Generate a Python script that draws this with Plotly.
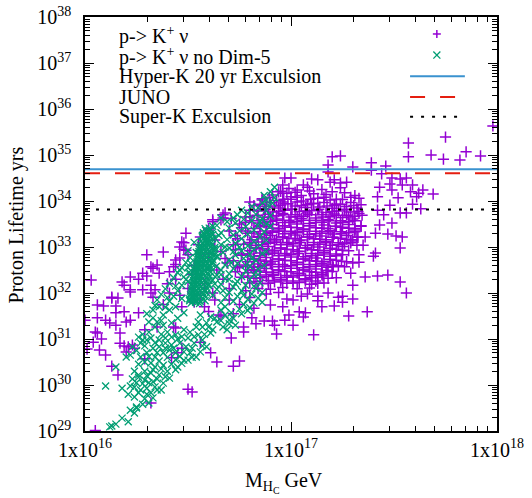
import numpy as np
import plotly.graph_objects as go

# ---- data: (log10 M_HC [GeV], log10 proton lifetime [yrs]) ----
kplus_nu = [
    # top right / right side
    (17.98,35.63),(17.75,35.39),(17.57,35.26),(17.85,35.07),(17.68,35.00),(17.57,34.96),(17.74,34.91),(17.82,34.89),
    (17.92,34.98),(17.20,34.96),(17.24,34.98),(17.39,34.83),(17.46,34.76),(17.30,34.74),(17.39,34.67),(17.44,34.59),
    (17.49,34.50),(17.53,34.48),(17.56,34.50),(17.54,34.35),(17.59,34.35),(17.64,34.24),(17.69,34.15),(17.62,34.17),
    (17.61,34.09),(17.58,34.20),(17.52,34.07),(17.59,33.93),(17.63,33.83),(17.56,33.74),(17.53,33.74),(17.48,33.91),
    (17.49,34.24),(17.48,34.37),(17.43,34.30),(17.42,34.09),(17.42,33.80),(17.45,33.70),(17.49,33.52),(17.43,33.48),
    (17.41,33.30),(17.47,33.28),(17.51,33.24),(17.54,33.22),(17.53,32.98),(17.41,32.87),(17.40,32.80),(17.36,33.22),
    (17.35,33.04),(17.33,32.83),(17.33,32.67),(17.30,32.65),(17.29,32.43),(17.26,32.57),(17.36,32.35),(17.42,32.37),
    (17.47,32.39),(17.53,32.24),(17.56,32.00),(17.30,32.17),(17.25,31.93),(17.25,31.80),(17.30,31.87),(17.22,32.33),
    (17.21,31.72),(17.37,31.59),(17.28,31.50),
    # lower tail of the cloud
    (17.23,31.91),(17.18,32.00),(17.15,31.70),(17.13,31.93),(17.13,31.83),(17.11,31.09),(17.08,31.98),(17.07,31.57),
    (17.06,31.48),(17.04,31.59),(17.05,31.93),(17.01,31.30),(17.01,31.85),(16.99,31.52),(16.97,31.41),(16.96,31.70),
    (16.98,31.87),(16.93,31.11),(16.91,31.39),(16.92,31.30),(16.87,31.39),(16.90,31.74),(16.83,31.33),(16.81,31.46),
    (16.82,31.67),(16.77,31.15),(16.77,31.26),(16.71,31.02),(16.75,30.52),(16.72,30.41),
    # lower left
    (16.05,29.01),(16.50,29.91),(16.52,29.85),(16.32,29.61),(16.16,30.22),(16.13,30.41),(16.64,30.50),(16.29,30.57),
    (16.42,30.59),(16.47,30.80),(16.45,30.70),(16.10,30.65),(16.07,30.76),(16.08,31.00),(16.04,30.93),(16.01,30.78),
    (16.17,30.91),(16.20,30.72),(16.21,30.83),(16.23,30.87),(16.24,30.80),(16.19,30.85),(16.05,31.15),(16.06,31.13),
    (16.17,31.13),(16.29,31.20),(16.35,31.26),(16.43,31.26),(16.56,30.93),(16.61,30.70),(16.65,31.52),(16.00,31.41),
    (16.06,31.46),(16.10,31.41),(16.12,31.35),(16.15,31.30),(16.20,31.37),(16.22,31.41),(16.26,31.57),(16.19,31.59),
    (16.15,31.57),(16.06,31.74),(16.09,31.72),(16.15,31.72),(16.13,31.91),(16.22,32.02),(16.32,32.00),(16.44,31.24),
    # left middle
    (16.03,32.28),(16.13,31.89),(16.16,31.89),(16.18,32.24),(16.19,32.17),(16.22,32.35),(16.26,32.30),(16.22,32.07),
    (16.28,32.07),(16.30,32.37),(16.30,32.83),(16.33,32.54),(16.35,32.61),(16.38,32.89),(16.36,32.43),(16.41,32.46),
    (16.43,32.57),(16.44,32.72),(16.34,32.07),(16.32,32.17),(16.33,31.91),(16.47,33.11),(16.49,33.30),(16.46,32.76),
    (16.49,32.93),(16.50,32.83),(16.56,33.22),(16.66,33.59),(16.67,33.70),(16.68,33.74),
    (16.86,34.02),(16.80,33.80),(16.67,33.63),(16.62,33.59),(16.60,33.37),(16.48,33.09),(16.46,33.00),(16.32,32.57),
    (16.28,32.43),
    # top edge of the cloud
    (17.18,34.78),(17.18,34.63),(16.97,34.50),(17.00,34.50),(17.10,34.48),(17.13,34.46),(17.06,34.35),(17.19,34.41),
    (17.21,34.46),(17.24,34.39),(17.27,34.41),(16.96,34.35),(17.03,34.24),(16.96,34.17),(16.94,34.20),(17.00,34.09),
    (16.80,33.98),(16.96,33.98),
    # among the green band
    (16.40,32.20),(16.44,32.62),(16.52,32.40),(16.48,32.95),(16.55,33.05),(16.60,33.40),(16.63,33.15),(16.66,32.90),
    (16.70,33.35),(16.72,33.05),(16.69,32.65),(16.64,32.50),(16.58,32.20),(16.62,32.00),(16.67,32.30),(16.70,32.10),
    (16.74,32.55),(16.76,32.85),(16.73,33.25),(16.75,33.50),(16.71,33.62),(16.78,33.65),(16.62,33.55),(16.57,32.70),
    (16.50,32.10),(16.46,31.95),(16.53,31.80),(16.58,31.70),(16.63,31.85),(16.70,31.85),(16.75,31.75),(16.78,32.05),
    (16.80,31.90),(16.72,31.55),(16.66,31.50),(16.60,31.60),(16.44,32.30),(16.41,32.00),(16.38,31.75),(16.47,31.70),
    (16.56,31.95),(16.68,32.75),(16.60,32.85),(16.53,32.60),(16.78,33.35),(16.80,33.10),
    # dense cloud
    (16.99,34.27),(17.08,34.30),(17.15,34.25),(17.24,34.29),
    (16.95,34.21),(17.02,34.19),(17.09,34.22),(17.20,34.20),
    (16.91,34.13),(16.98,34.17),(17.05,34.12),(17.11,34.16),(17.17,34.14),(17.26,34.18),(17.31,34.12),
    (16.895,34.08),(16.965,34.04),(17.03,34.08),(17.095,34.04),(17.16,34.08),(17.22,34.04),(17.29,34.08),
    (16.86,34.05),(16.93,34.01),(17.00,34.04),(17.06,34.00),(17.13,34.06),(17.19,34.02),(17.25,34.03),(17.33,34.06),
    (16.90,33.96),(16.97,33.94),(17.03,33.98),(17.10,33.95),(17.16,33.97),(17.22,33.93),(17.29,33.97),
    (16.85,33.93),(16.92,33.89),(16.985,33.94),(17.05,33.90),(17.11,33.94),(17.175,33.89),(17.24,33.93),(17.305,33.90),
    (16.82,33.90),(16.88,33.88),(16.95,33.91),(17.02,33.89),(17.08,33.92),(17.14,33.87),(17.21,33.90),(17.27,33.88),(17.34,33.92),
    (16.87,33.83),(16.94,33.85),(17.00,33.82),(17.07,33.86),(17.13,33.81),(17.20,33.84),(17.26,33.82),(17.32,33.85),
    (16.875,33.81),(16.94,33.77),(17.005,33.82),(17.07,33.78),(17.135,33.82),(17.20,33.77),(17.26,33.81),(17.325,33.77),
    (16.84,33.78),(16.91,33.76),(16.97,33.80),(17.04,33.77),(17.10,33.79),(17.17,33.75),(17.23,33.78),(17.29,33.76),
    (16.89,33.71),(16.96,33.73),(17.02,33.70),(17.08,33.74),(17.15,33.70),(17.21,33.72),(17.27,33.69),(17.33,33.73),
    (16.835,33.69),(16.90,33.65),(16.965,33.70),(17.03,33.66),(17.09,33.70),(17.155,33.65),(17.22,33.69),(17.28,33.65),(17.345,33.69),
    (16.80,33.66),(16.87,33.64),(16.93,33.68),(17.00,33.65),(17.06,33.67),(17.12,33.63),(17.19,33.66),(17.25,33.64),(17.31,33.67),
    (16.86,33.59),(16.93,33.61),(16.99,33.58),(17.05,33.62),(17.12,33.58),(17.18,33.60),(17.24,33.57),(17.30,33.61),
    (16.81,33.57),(16.87,33.53),(16.93,33.58),(16.995,33.54),(17.06,33.58),(17.12,33.53),(17.185,33.57),(17.25,33.53),(17.31,33.57),
    (16.78,33.54),(16.84,33.52),(16.90,33.56),(16.96,33.53),(17.03,33.55),(17.09,33.51),(17.15,33.54),(17.22,33.52),(17.28,33.55),
    (16.85,33.47),(16.91,33.49),(16.97,33.46),(17.03,33.50),(17.09,33.46),(17.16,33.48),(17.22,33.45),(17.28,33.49),(17.34,33.46),
    (16.85,33.45),(16.91,33.41),(16.97,33.46),(17.03,33.42),(17.09,33.46),(17.15,33.41),(17.215,33.45),(17.28,33.41),(17.34,33.45),
    (16.76,33.42),(16.82,33.40),(16.88,33.44),(16.94,33.41),(17.00,33.43),(17.06,33.39),(17.12,33.42),(17.18,33.40),(17.25,33.43),(17.31,33.40),
    (16.88,33.35),(16.94,33.37),(17.00,33.34),(17.06,33.38),(17.12,33.34),(17.19,33.36),(17.24,33.33),(17.31,33.37),
    (16.82,33.33),(16.88,33.29),(16.94,33.34),(17.00,33.30),(17.06,33.34),(17.12,33.29),(17.18,33.33),(17.245,33.29),(17.31,33.33),
    (16.79,33.30),(16.85,33.28),(16.91,33.32),(16.97,33.29),(17.03,33.31),(17.09,33.27),(17.15,33.30),(17.21,33.28),(17.28,33.31),
    (16.84,33.23),(16.90,33.25),(16.96,33.22),(17.02,33.26),(17.08,33.22),(17.14,33.24),(17.20,33.21),(17.27,33.25),(17.32,33.22),
    (16.84,33.21),(16.90,33.17),(16.96,33.22),(17.02,33.18),(17.08,33.22),(17.14,33.17),(17.205,33.21),(17.27,33.17),(17.325,33.21),
    (16.74,33.18),(16.81,33.16),(16.87,33.20),(16.93,33.17),(16.99,33.19),(17.05,33.15),(17.11,33.18),(17.17,33.16),(17.24,33.19),(17.30,33.16),
    (16.86,33.11),(16.92,33.13),(16.98,33.10),(17.04,33.14),(17.11,33.10),(17.17,33.12),(17.23,33.09),(17.29,33.13),
    (16.80,33.09),(16.86,33.05),(16.92,33.10),(16.98,33.06),(17.045,33.10),(17.11,33.05),(17.17,33.09),(17.23,33.05),(17.29,33.09),
    (16.77,33.06),(16.83,33.04),(16.89,33.08),(16.95,33.05),(17.01,33.07),(17.08,33.03),(17.14,33.06),(17.20,33.04),(17.26,33.07),(17.32,33.04),
    (16.83,32.99),(16.89,33.01),(16.95,32.98),(17.01,33.02),(17.07,32.98),(17.13,33.00),(17.19,32.97),(17.25,33.01),
    (16.83,32.97),(16.89,32.93),(16.95,32.98),(17.01,32.94),(17.07,32.98),(17.13,32.93),(17.19,32.97),(17.25,32.93),
    (16.73,32.94),(16.80,32.92),(16.86,32.96),(16.92,32.93),(16.98,32.95),(17.04,32.91),(17.10,32.94),(17.16,32.92),(17.22,32.95),(17.28,32.92),
    (16.85,32.87),(16.91,32.89),(16.97,32.86),(17.03,32.90),(17.10,32.86),(17.16,32.88),(17.22,32.85),
    (16.79,32.85),(16.85,32.81),(16.91,32.86),(16.97,32.82),(17.035,32.86),(17.10,32.81),(17.16,32.85),(17.22,32.81),
    (16.76,32.82),(16.82,32.80),(16.88,32.84),(16.94,32.81),(17.00,32.83),(17.07,32.79),(17.13,32.82),(17.19,32.80),(17.25,32.83),
    (16.82,32.75),(16.88,32.77),(16.94,32.74),(17.00,32.78),(17.06,32.74),(17.12,32.76),(17.19,32.73),
    (16.82,32.73),(16.88,32.69),(16.94,32.74),(17.00,32.70),(17.06,32.74),(17.125,32.69),(17.19,32.73),(17.245,32.69),
    (16.72,32.70),(16.79,32.68),(16.85,32.72),(16.91,32.69),(16.97,32.71),(17.03,32.67),(17.09,32.70),(17.16,32.68),(17.22,32.71),(17.27,32.68),
    (16.84,32.63),(16.90,32.65),(16.96,32.62),(17.03,32.66),(17.09,32.62),(17.15,32.64),(17.20,32.61),
    (16.78,32.61),(16.84,32.57),(16.905,32.62),(16.97,32.58),(17.03,32.62),(17.09,32.57),(17.15,32.61),(17.205,32.57),
    (16.75,32.58),(16.81,32.56),(16.87,32.60),(16.94,32.57),(17.00,32.59),(17.06,32.55),(17.12,32.58),(17.18,32.56),(17.23,32.59),
    (16.82,32.51),(16.88,32.53),(16.94,32.50),(17.00,32.54),(17.06,32.50),(17.12,32.52),(17.17,32.49),
    (16.82,32.49),(16.88,32.45),(16.94,32.50),(17.00,32.46),(17.06,32.50),(17.12,32.45),(17.175,32.49),
    (16.73,32.46),(16.79,32.44),(16.85,32.48),(16.91,32.45),(16.97,32.47),(17.03,32.43),(17.09,32.46),(17.15,32.44),(17.20,32.47),
    (16.85,32.39),(16.91,32.41),(16.98,32.38),(17.04,32.42),(17.10,32.38),(17.15,32.40),
    (16.79,32.37),(16.85,32.33),(16.915,32.38),(16.98,32.34),(17.04,32.38),(17.10,32.33),(17.155,32.37),
    (16.76,32.34),(16.82,32.32),(16.88,32.36),(16.95,32.33),(17.01,32.35),(17.07,32.31),(17.13,32.34),(17.18,32.32),
    (16.89,32.27),(16.95,32.29),(17.01,32.26),(17.07,32.30),(17.12,32.26),
    (16.83,32.25),(16.89,32.21),(16.95,32.26),(17.01,32.22),(17.07,32.26),(17.13,32.21),
    (16.80,32.22),(16.86,32.20),(16.92,32.24),(16.98,32.21),(17.04,32.23),(17.10,32.19),(17.16,32.22),
    (16.84,32.10),(16.90,32.08),(16.96,32.12),(17.03,32.09),(17.09,32.11),
    (16.88,31.98),(16.94,32.01),
]

kplus_nu_no_dim5 = [
    # upper band
    (16.92,34.30),(16.90,34.20),(16.92,34.07),(16.88,34.02),(16.86,33.96),(16.84,33.85),(16.76,33.80),(16.74,33.70),
    (16.72,33.63),(16.66,33.63),(16.89,33.91),(16.81,33.88),(16.88,33.80),(16.79,33.74),(16.83,33.71),(16.90,33.68),
    (16.86,33.62),(16.77,33.60),(16.81,33.57),(16.69,33.55),(16.73,33.52),(16.88,33.50),(16.84,33.46),(16.64,33.47),
    (16.78,33.44),(16.70,33.41),(16.61,33.38),(16.75,33.35),(16.82,33.37),(16.87,33.33),(16.66,33.31),(16.72,33.26),
    (16.79,33.28),(16.85,33.22),(16.63,33.20),(16.69,33.16),(16.76,33.18),(16.82,33.12),(16.88,33.15),(16.60,33.09),
    (16.66,33.05),(16.73,33.08),(16.79,33.02),(16.85,33.04),(16.57,33.00),(16.63,32.95),(16.70,32.98),(16.76,32.92),
    (16.82,32.95),(16.54,32.88),(16.61,32.85),(16.67,32.88),(16.73,32.82),(16.80,32.84),(16.86,32.86),(16.51,32.77),
    (16.58,32.74),(16.64,32.78),(16.70,32.72),(16.77,32.75),(16.83,32.70),(16.49,32.66),(16.55,32.62),(16.62,32.67),
    (16.68,32.61),(16.74,32.64),(16.80,32.58),(16.47,32.55),(16.53,32.51),(16.60,32.56),(16.66,32.50),(16.72,32.53),
    (16.78,32.48),(16.84,32.52),(16.45,32.44),(16.51,32.40),(16.57,32.45),(16.64,32.39),(16.70,32.42),(16.76,32.36),
    (16.82,32.40),(16.43,32.33),(16.49,32.29),(16.55,32.34),(16.62,32.28),(16.68,32.31),(16.74,32.25),(16.80,32.29),
    (16.85,32.22),(16.41,32.21),(16.47,32.17),(16.53,32.23),(16.60,32.16),(16.66,32.19),(16.72,32.13),(16.78,32.17),
    (16.83,32.10),(16.39,32.09),(16.45,32.05),(16.58,32.04),(16.64,32.08),(16.70,32.01),(16.76,32.05),(16.81,31.98),
    (16.86,32.01),(16.37,31.97),(16.43,31.93),(16.62,31.95),(16.68,31.90),(16.74,31.93),(16.79,31.86),(16.84,31.89),
    (16.35,31.85),(16.41,31.82),(16.47,31.88),(16.66,31.79),(16.72,31.82),(16.77,31.75),(16.82,31.78),(16.34,31.73),
    (16.39,31.69),(16.44,31.70),(16.68,31.70),(16.71,31.57),(16.75,31.65),(16.80,31.68),(16.66,31.63),
    (16.72,31.45),(16.76,31.55),(16.79,31.62),(16.73,31.30),(16.70,31.33),
    (16.46,32.50),(16.48,32.35),(16.44,32.15),(16.50,32.55),(16.50,32.92),(16.53,33.10),(16.57,33.25),(16.62,33.45),
    (16.65,33.25),(16.68,33.00),(16.72,32.90),(16.75,33.00),(16.78,32.60),(16.81,32.75),(16.84,32.40),(16.87,32.60),
    (16.88,32.90),(16.90,33.45),(16.91,33.95),(16.87,34.12),(16.85,33.55),(16.70,32.30),(16.66,32.40),(16.73,32.20),
    (16.77,31.95),(16.82,32.15),(16.86,31.80),(16.63,32.20),(16.67,32.05),(16.71,32.65),
    # dense column
    (16.515,31.78),(16.537,31.80),(16.556,31.77),
    (16.508,31.87),(16.529,31.89),(16.550,31.86),(16.571,31.88),
    (16.512,31.96),(16.534,31.97),(16.553,31.95),(16.575,31.98),
    (16.518,32.05),(16.539,32.06),(16.560,32.04),(16.581,32.07),
    (16.522,32.14),(16.543,32.15),(16.563,32.13),(16.585,32.16),
    (16.525,32.23),(16.546,32.24),(16.568,32.22),(16.588,32.25),
    (16.529,32.32),(16.551,32.33),(16.571,32.31),(16.592,32.34),
    (16.533,32.41),(16.554,32.42),(16.575,32.40),(16.596,32.43),
    (16.536,32.50),(16.558,32.51),(16.579,32.49),(16.600,32.52),
    (16.540,32.59),(16.562,32.60),(16.583,32.58),(16.603,32.61),
    (16.544,32.68),(16.565,32.69),(16.586,32.67),(16.607,32.70),
    (16.548,32.77),(16.569,32.78),(16.590,32.76),(16.610,32.79),
    (16.551,32.86),(16.573,32.87),(16.594,32.85),(16.613,32.88),
    (16.555,32.95),(16.577,32.96),(16.597,32.94),(16.616,32.97),
    (16.559,33.04),(16.581,33.05),(16.601,33.03),(16.619,33.06),
    (16.564,33.13),(16.585,33.14),(16.605,33.12),
    (16.569,33.22),(16.590,33.23),(16.609,33.21),
    (16.575,33.31),(16.596,33.32),(16.614,33.30),
    (16.583,33.40),(16.603,33.41),
    (16.508,31.83),(16.522,31.82),(16.538,31.83),(16.559,31.82),(16.583,31.83),
    (16.512,31.91),(16.526,31.92),(16.542,31.91),(16.563,31.92),(16.587,31.91),
    (16.516,32.00),(16.530,32.01),(16.546,32.00),(16.567,32.01),(16.591,32.00),
    (16.519,32.09),(16.533,32.10),(16.549,32.09),(16.570,32.10),(16.594,32.09),
    (16.523,32.18),(16.537,32.19),(16.553,32.18),(16.574,32.19),(16.598,32.18),
    (16.527,32.27),(16.541,32.28),(16.557,32.27),(16.578,32.28),(16.602,32.27),
    (16.531,32.36),(16.545,32.37),(16.561,32.36),(16.582,32.37),(16.606,32.36),
    (16.535,32.45),(16.549,32.46),(16.565,32.45),(16.586,32.46),(16.610,32.45),
    (16.538,32.54),(16.552,32.55),(16.568,32.54),(16.589,32.55),(16.613,32.54),
    (16.542,32.63),(16.556,32.64),(16.572,32.63),(16.593,32.64),(16.617,32.63),
    (16.546,32.72),(16.560,32.73),(16.576,32.72),(16.597,32.73),(16.621,32.72),
    (16.550,32.81),(16.564,32.82),(16.580,32.81),(16.601,32.82),(16.625,32.81),
    (16.553,32.90),(16.567,32.91),(16.583,32.90),(16.604,32.91),(16.628,32.90),
    (16.557,32.99),(16.571,33.00),(16.587,32.99),(16.608,33.00),(16.630,32.99),
    (16.570,33.09),(16.591,33.08),(16.612,33.09),
    (16.574,33.18),(16.595,33.17),(16.616,33.18),
    (16.578,33.27),(16.599,33.26),(16.620,33.27),
    (16.586,33.36),(16.606,33.35),
    (16.500,32.25),(16.505,32.45),(16.512,32.65),(16.632,32.35),(16.638,32.58),(16.642,32.80),
    # lower band
    (16.33,31.63),(16.38,31.52),(16.41,31.63),(16.48,31.57),(16.33,31.46),(16.35,31.37),(16.31,31.37),(16.34,31.26),
    (16.56,31.52),(16.61,31.48),(16.64,31.37),(16.67,31.26),(16.69,31.20),(16.70,31.41),(16.55,31.37),(16.57,31.26),
    (16.60,31.26),(16.62,31.20),(16.61,31.13),(16.54,31.26),(16.51,31.15),(16.48,31.20),(16.44,31.09),(16.42,31.04),
    (16.39,31.02),(16.36,30.98),(16.32,31.02),(16.28,30.98),(16.26,31.04),(16.55,31.09),(16.57,30.98),(16.53,30.91),
    (16.50,31.02),(16.49,30.83),(16.46,30.91),(16.42,30.87),(16.39,30.91),(16.36,30.83),(16.33,30.80),(16.30,30.98),
    (16.27,30.91),(16.23,30.83),(16.59,30.83),(16.56,30.72),(16.54,30.61),(16.51,30.70),(16.48,30.72),(16.44,30.70),
    (16.41,30.76),(16.38,30.70),(16.34,30.61),(16.29,30.50),(16.27,30.61),(16.22,30.65),(16.20,30.61),(16.50,30.54),
    (16.48,30.54),(16.45,30.39),(16.44,30.33),(16.38,30.43),(16.34,30.39),(16.32,30.48),(16.15,30.39),(16.41,30.15),
    (16.38,30.04),(16.36,30.22),(16.32,30.26),(16.33,30.07),(16.29,30.11),(16.26,30.17),(16.23,30.13),(16.26,30.22),
    (16.37,29.89),(16.34,29.96),(16.30,29.93),(16.27,29.89),(16.32,29.83),(16.26,29.83),(16.24,29.74),(16.31,29.61),
    (16.25,29.52),(16.25,29.50),(16.24,29.39),(16.18,29.28),(16.12,29.09),(16.13,29.11),(16.10,29.98),(16.18,29.93),
    (16.35,29.89),(16.44,30.55),(16.40,30.60),(16.46,30.62),(16.52,30.80),(16.45,31.00),(16.40,31.15),(16.37,31.10),
    (16.30,30.70),(16.36,30.52),(16.29,30.30),(16.40,30.30),(16.35,30.13),(16.28,30.03),(16.22,29.98),
    (16.21,29.20),(16.15,29.15),(16.22,29.45),(16.28,29.58),(16.29,29.70),(16.21,29.80),(16.30,29.80),(16.33,29.72),
    (16.24,29.95),(16.31,30.05),(16.25,30.05),(16.39,30.18),(16.30,30.20),(16.24,30.30),(16.33,30.33),(16.42,30.45),
    (16.37,30.35),(16.26,30.45),(16.31,30.62),(16.35,30.70),(16.47,30.47),(16.43,30.80),(16.39,30.80),(16.25,30.75),
    (16.29,30.85),(16.34,30.92),(16.47,31.05),(16.53,31.05),(16.58,31.10),(16.59,31.35),(16.63,31.45),(16.66,31.40),
    (16.68,31.52),(16.52,30.60),(16.57,30.85),(16.31,31.15),(16.28,31.10),(16.38,31.30),(16.42,31.35),(16.45,31.45),
    (16.36,31.70),(16.40,31.90),(16.30,31.55),(16.37,31.40),
]

hyperk_20yr_tau = 4.9e34
juno_tau = 4.0e34
superk_tau = 6.5e33
line_mass_span = [1e16, 1e18]

y_decades = list(range(29, 39))
x_decades = [16, 17, 18]


def unzip(points):
    arr = np.array(points, dtype=float)
    return np.power(10.0, arr[:, 0]), np.power(10.0, arr[:, 1])


px, py = unzip(kplus_nu)
gx, gy = unzip(kplus_nu_no_dim5)

PURPLE = "#9400d3"
GREEN = "#009e73"
BLUE = "#3a92cf"
RED = "#e51e10"
FONT = "Liberation Serif"

fig = go.Figure()
fig.add_trace(go.Scatter(x=px, y=py, mode="markers", showlegend=False,
                         marker=dict(symbol="cross-thin", size=8, color=PURPLE,
                                     line=dict(color=PURPLE, width=1.5))))
fig.add_trace(go.Scatter(x=gx, y=gy, mode="markers", showlegend=False,
                         marker=dict(symbol="x-thin", size=7, color=GREEN,
                                     line=dict(color=GREEN, width=1.3))))
fig.add_trace(go.Scatter(x=line_mass_span, y=[hyperk_20yr_tau] * 2, mode="lines", showlegend=False,
                         line=dict(color=BLUE, width=2)))
fig.add_trace(go.Scatter(x=line_mass_span, y=[juno_tau] * 2, mode="lines", showlegend=False,
                         line=dict(color=RED, width=2, dash="15px,15px")))
fig.add_trace(go.Scatter(x=line_mass_span, y=[superk_tau] * 2, mode="lines", showlegend=False,
                         line=dict(color="black", width=2, dash="3px,8px")))

minor_x = [k * 10.0 ** d for d in x_decades[:-1] for k in range(2, 10)]
minor_y = [k * 10.0 ** d for d in y_decades[:-1] for k in range(2, 10)]

axis_common = dict(type="log", showgrid=False, zeroline=False, showline=True, linecolor="black",
                   linewidth=1.5, mirror="allticks", ticks="inside", ticklen=9, tickwidth=1,
                   tickcolor="black", automargin=False,
                   tickfont=dict(family=FONT, size=20, color="black"))

fig.update_xaxes(range=[16, 18], tickmode="array",
                 tickvals=[10.0 ** d for d in x_decades],
                 ticktext=["1x10<sup>%d</sup>" % d for d in x_decades],
                 minor=dict(tickmode="array", tickvals=minor_x, ticks="inside", ticklen=5,
                            tickwidth=1, tickcolor="black"),
                 **axis_common)
fig.update_yaxes(range=[29, 38], tickmode="array",
                 tickvals=[10.0 ** d for d in y_decades],
                 ticktext=["10<sup>%d</sup>" % d for d in y_decades],
                 ticklabelstandoff=8,
                 minor=dict(tickmode="array", tickvals=minor_y, ticks="inside", ticklen=5,
                            tickwidth=1, tickcolor="black"),
                 **axis_common)

# custom gnuplot-style key: text left, sample right
key_labels = ["p-&gt; K<sup>+</sup> ν", "p-&gt; K<sup>+</sup> ν no Dim-5",
              "Hyper-K 20 yr Exculsion", "JUNO", "Super-K Exculsion"]
key_y = [0.956, 0.905, 0.856, 0.807, 0.759]
annotations = []
for lab, yy in zip(key_labels, key_y):
    annotations.append(dict(text=lab, x=0.0777, y=yy, xref="paper", yref="paper",
                            xanchor="left", yanchor="middle", showarrow=False,
                            font=dict(family=FONT, size=20, color="black")))
annotations.append(dict(text="Proton Lifetime yrs", x=-0.166, y=0.498, xref="paper", yref="paper",
                        textangle=-90, showarrow=False, xanchor="center", yanchor="middle",
                        font=dict(family=FONT, size=20, color="black")))
annotations.append(dict(text="M<sub>H<sub>C</sub></sub> GeV", x=0.483, y=-0.088, xref="paper", yref="paper",
                        showarrow=False, xanchor="center", yanchor="top",
                        font=dict(family=FONT, size=20, color="black")))

shapes = []
sx0, sx1 = 0.789, 0.922
cx = 0.854
d = 0.0097
shapes.append(dict(type="line", xref="paper", yref="paper", x0=cx - d, x1=cx + d, y0=0.959, y1=0.959,
                   line=dict(color=PURPLE, width=1.5)))
shapes.append(dict(type="line", xref="paper", yref="paper", x0=cx, x1=cx, y0=0.959 - d, y1=0.959 + d,
                   line=dict(color=PURPLE, width=1.5)))
e = 0.0085
shapes.append(dict(type="line", xref="paper", yref="paper", x0=cx - e, x1=cx + e, y0=0.908 - e, y1=0.908 + e,
                   line=dict(color=GREEN, width=1.3)))
shapes.append(dict(type="line", xref="paper", yref="paper", x0=cx - e, x1=cx + e, y0=0.908 + e, y1=0.908 - e,
                   line=dict(color=GREEN, width=1.3)))
shapes.append(dict(type="line", xref="paper", yref="paper", x0=sx0, x1=sx1, y0=0.857, y1=0.857,
                   line=dict(color=BLUE, width=2)))
shapes.append(dict(type="line", xref="paper", yref="paper", x0=sx0, x1=sx1, y0=0.807, y1=0.807,
                   line=dict(color=RED, width=2, dash="15px,15px")))
shapes.append(dict(type="line", xref="paper", yref="paper", x0=sx0, x1=sx1, y0=0.759, y1=0.759,
                   line=dict(color="black", width=2, dash="3px,8px")))

fig.update_layout(width=532, height=498, margin=dict(l=85, r=35, t=17, b=67),
                  paper_bgcolor="white", plot_bgcolor="white",
                  font=dict(family=FONT, size=20, color="black"),
                  annotations=annotations, shapes=shapes, showlegend=False)

fig.write_html("out.html", config={"displayModeBar": False},
               post_script="document.body.style.margin='0px';document.body.style.overflow='hidden';")
